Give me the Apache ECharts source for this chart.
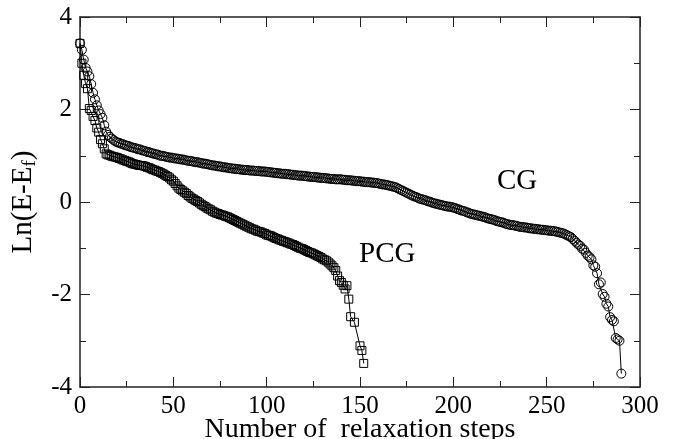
<!DOCTYPE html>
<html>
<head>
<meta charset="utf-8">
<script src="https://cdn.jsdelivr.net/npm/echarts@6/dist/echarts.min.js"></script>
<style>
html,body{margin:0;padding:0;background:#fff;}
#chart{width:676px;height:439px;}
</style>
</head>
<body>
<div id="chart"></div>
<script>
// CG: Ln(E-Ef) at relaxation steps 0..290
var cgLn = [
3.43,3.29,3.08,2.90,2.82,2.72,2.55,2.36,2.22,2.09,
1.98,1.90,1.82,1.66,1.52,1.45,1.41,1.37,1.34,1.31,
1.29,1.28,1.26,1.25,1.23,1.22,1.21,1.19,1.18,1.17,
1.16,1.14,1.14,1.12,1.11,1.10,1.08,1.08,1.06,1.05,
1.04,1.03,1.02,1.00,1.00,0.99,0.98,0.97,0.96,0.96,
0.95,0.94,0.94,0.93,0.92,0.92,0.91,0.90,0.89,0.89,
0.88,0.87,0.86,0.86,0.85,0.84,0.83,0.83,0.82,0.81,
0.80,0.79,0.79,0.78,0.77,0.77,0.76,0.75,0.75,0.74,
0.73,0.73,0.72,0.72,0.71,0.71,0.70,0.70,0.69,0.69,
0.69,0.68,0.68,0.68,0.67,0.67,0.67,0.66,0.66,0.66,
0.65,0.65,0.64,0.64,0.63,0.63,0.62,0.62,0.61,0.61,
0.61,0.60,0.60,0.59,0.59,0.58,0.58,0.57,0.57,0.57,
0.56,0.56,0.55,0.55,0.54,0.54,0.54,0.53,0.53,0.52,
0.52,0.52,0.51,0.51,0.50,0.50,0.50,0.49,0.49,0.49,
0.49,0.48,0.48,0.47,0.47,0.47,0.46,0.46,0.45,0.45,
0.45,0.44,0.44,0.43,0.43,0.43,0.42,0.42,0.41,0.41,
0.40,0.39,0.38,0.38,0.37,0.36,0.35,0.34,0.33,0.32,
0.30,0.28,0.26,0.24,0.22,0.20,0.18,0.16,0.14,0.12,
0.11,0.09,0.07,0.06,0.05,0.04,0.02,0.01,0.00,-0.02,
-0.03,-0.04,-0.05,-0.06,-0.07,-0.08,-0.09,-0.10,-0.10,-0.11,
-0.12,-0.13,-0.15,-0.16,-0.18,-0.19,-0.20,-0.22,-0.23,-0.25,
-0.26,-0.27,-0.28,-0.29,-0.30,-0.31,-0.32,-0.33,-0.35,-0.36,
-0.37,-0.38,-0.39,-0.41,-0.42,-0.43,-0.44,-0.45,-0.47,-0.48,
-0.49,-0.50,-0.50,-0.51,-0.52,-0.53,-0.54,-0.54,-0.55,-0.55,
-0.56,-0.57,-0.57,-0.58,-0.58,-0.59,-0.59,-0.60,-0.60,-0.61,
-0.61,-0.62,-0.62,-0.63,-0.63,-0.64,-0.65,-0.66,-0.67,-0.68,
-0.70,-0.72,-0.74,-0.76,-0.80,-0.84,-0.88,-0.92,-0.95,-1.01,
-1.03,-1.10,-1.16,-1.19,-1.24,-1.37,-1.40,-1.54,-1.78,-1.74,
-1.99,-2.05,-2.20,-2.26,-2.49,-2.55,-2.58,-2.94,-2.97,-3.00,
-3.71
];

// PCG: steps and Ln(E-Ef)
var pcgSteps = [
0,1,2,3,4,5,6,7,8,9,10,11,12,13,14,15,16,17,18,19,
20,21,22,23,24,25,26,27,28,29,30,31,32,33,34,35,36,37,38,39,
40,41,42,43,44,45,46,47,48,49,50,51,52,53,54,55,56,57,58,59,
60,61,62,63,64,65,66,67,68,69,70,71,72,73,74,75,76,77,78,79,
80,81,82,83,84,85,86,87,88,89,90,91,92,93,94,95,96,97,98,99,
100,101,102,103,104,105,106,107,108,109,110,111,112,113,114,115,116,117,118,119,
120,121,122,123,124,125,126,127,128,129,130,131,132,133,134,135,136,137,138,139,
140,141,142,143,144,145,147,150,151,152
];
var pcgLn = [
3.43,3.00,2.74,2.56,2.45,2.02,1.98,1.85,1.76,1.60,
1.51,1.35,1.26,1.15,1.04,1.02,1.01,0.99,0.98,0.97,
0.96,0.94,0.93,0.91,0.90,0.88,0.87,0.85,0.83,0.82,
0.81,0.80,0.79,0.79,0.78,0.77,0.75,0.74,0.72,0.70,
0.69,0.67,0.66,0.64,0.62,0.60,0.57,0.55,0.52,0.48,
0.45,0.40,0.35,0.30,0.27,0.24,0.21,0.18,0.14,0.11,
0.08,0.06,0.03,0.01,-0.02,-0.05,-0.08,-0.10,-0.13,-0.15,
-0.17,-0.20,-0.22,-0.24,-0.25,-0.27,-0.28,-0.29,-0.31,-0.32,
-0.34,-0.36,-0.38,-0.40,-0.42,-0.44,-0.46,-0.48,-0.50,-0.52,
-0.54,-0.56,-0.58,-0.59,-0.61,-0.63,-0.64,-0.65,-0.67,-0.68,
-0.71,-0.72,-0.73,-0.75,-0.77,-0.79,-0.80,-0.82,-0.83,-0.85,
-0.86,-0.88,-0.89,-0.91,-0.92,-0.94,-0.96,-0.98,-1.00,-1.01,
-1.03,-1.05,-1.07,-1.09,-1.10,-1.12,-1.14,-1.16,-1.18,-1.20,
-1.23,-1.25,-1.27,-1.30,-1.34,-1.38,-1.42,-1.48,-1.60,-1.70,
-1.74,-1.80,-1.88,-1.81,-2.10,-2.48,-2.60,-3.11,-3.21,-3.49
];

var xTicks = [0, 50, 100, 150, 200, 250, 300];
var yTicks = [-4, -2, 0, 2, 4];
var seriesNames = ['CG', 'PCG'];
var xTitle = 'Number of  relaxation steps';

var FONT = '"Liberation Serif", "DejaVu Serif", serif';

var cgData = cgLn.map(function (v, i) { return [i, v]; });
var pcgData = pcgLn.map(function (v, i) { return [pcgSteps[i], v]; });

function axisBase(showLabel) {
  return {
    type: 'value',
    axisLine: { show: true, onZero: false, lineStyle: { color: '#222', width: 1.5 } },
    axisTick: { show: true, inside: true, length: 10, lineStyle: { color: '#222', width: 1 } },
    minorTick: { show: true, splitNumber: 2, length: 6, lineStyle: { color: '#222', width: 1 } },
    splitLine: { show: false },
    minorSplitLine: { show: false },
    axisLabel: { show: showLabel, color: '#000', fontFamily: FONT, fontSize: 25 }
  };
}

var chart = echarts.init(document.getElementById('chart'), null, { renderer: 'canvas' });

var xb = axisBase(true);
xb.min = 0; xb.max = 300; xb.interval = 50; xb.position = 'bottom';
xb.axisLabel.margin = 7;
xb.axisLabel.formatter = function (v) { return xTicks.indexOf(v) >= 0 ? String(v) : ''; };
xb.name = xTitle;
xb.nameLocation = 'middle';
xb.nameGap = 29;
xb.nameMoveOverlap = false;
xb.nameTextStyle = { color: '#000', fontFamily: FONT, fontSize: 28 };

var xt = axisBase(false);
xt.min = 0; xt.max = 300; xt.interval = 50; xt.position = 'top';

var yl = axisBase(true);
yl.min = -4; yl.max = 4; yl.interval = 2; yl.position = 'left';
yl.axisLabel.margin = 8;
yl.axisLabel.formatter = function (v) { return yTicks.indexOf(v) >= 0 ? String(v) : ''; };
yl.name = '{m|Ln(E-E}{s|f}{m|)}';
yl.nameLocation = 'middle';
yl.nameGap = 40;
yl.nameMoveOverlap = false;
yl.nameTextStyle = {
  color: '#000', fontFamily: FONT, fontSize: 29,
  rich: {
    m: { color: '#000', fontFamily: FONT, fontSize: 29 },
    s: { color: '#000', fontFamily: FONT, fontSize: 19, padding: [14, 0, 0, 0] }
  }
};

var yr = axisBase(false);
yr.min = -4; yr.max = 4; yr.interval = 2; yr.position = 'right';

var markerStyle = { color: 'rgba(0,0,0,0)', borderColor: '#000', borderWidth: 1 };

chart.setOption({
  animation: false,
  backgroundColor: '#fff',
  grid: { left: 80, right: 36, top: 17, bottom: 52, containLabel: false, outerBoundsMode: 'none' },
  xAxis: [xb, xt],
  yAxis: [yl, yr],
  series: [
    {
      name: seriesNames[0], type: 'line', xAxisIndex: 0, yAxisIndex: 0,
      data: cgData, symbol: 'circle', symbolSize: 9, showAllSymbol: true,
      lineStyle: { color: '#000', width: 1 }, itemStyle: markerStyle,
      z: 3
    },
    {
      name: seriesNames[1], type: 'line', xAxisIndex: 0, yAxisIndex: 0,
      data: pcgData, symbol: 'rect', symbolSize: 8, showAllSymbol: true,
      lineStyle: { color: '#000', width: 1 }, itemStyle: markerStyle,
      z: 3
    }
  ],
  graphic: [
    { type: 'text', left: 497, top: 167, style: { text: seriesNames[0], fill: '#000', font: '29px ' + FONT } },
    { type: 'text', left: 359, top: 240, style: { text: seriesNames[1], fill: '#000', font: '29px ' + FONT } }
  ]
});
</script>
</body>
</html>
